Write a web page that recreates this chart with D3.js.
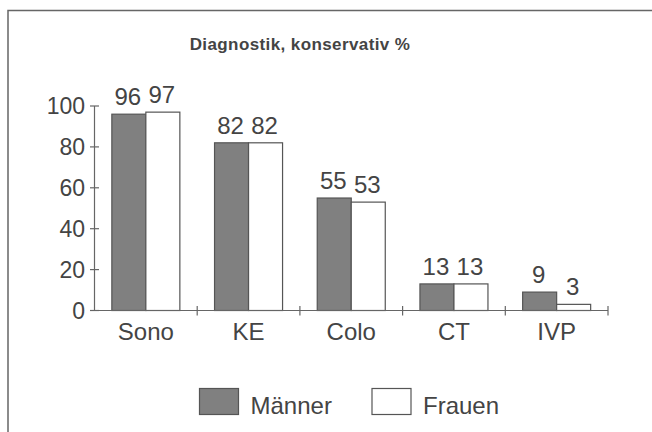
<!DOCTYPE html>
<html>
<head>
<meta charset="utf-8">
<script src="https://cdn.jsdelivr.net/npm/d3@7"></script>
<style>
  html, body { margin: 0; padding: 0; background: #fff; }
  svg text { font-family: "Liberation Sans", Arial, sans-serif; fill: #444; }
</style>
</head>
<body>
<div id="chart"></div>
<script>
// 数据
const categories = ['Sono', 'KE', 'Colo', 'CT', 'IVP'];
const seriesNames = ['Männer', 'Frauen'];
const maenner = [96, 82, 55, 13, 9];
const frauen = [97, 82, 53, 13, 3];
const yTicks = [0, 20, 40, 60, 80, 100];

const fills = ['#808080', '#ffffff'];
const W = 652, H = 432;

const svg = d3.select('#chart').append('svg').attr('width', W).attr('height', H);

// 外框
svg.append('rect')
  .attr('x', 8).attr('y', 10.5)
  .attr('width', W + 10).attr('height', H + 10)
  .attr('fill', 'none').attr('stroke', '#666').attr('stroke-width', 1.5);

// 标题
svg.append('text')
  .attr('x', 300).attr('y', 50)
  .attr('text-anchor', 'middle')
  .style('font-size', '17px').style('font-weight', 'bold')
  .style('letter-spacing', '0.4px')
  .text('Diagnostik, konservativ %');

const rows = categories.map((c, i) => ({ cat: c, values: [maenner[i], frauen[i]] }));

const x0 = d3.scaleBand().domain(categories).range([94.5, 608]).padding(0);
const x1 = d3.scaleBand().domain(d3.range(seriesNames.length)).range([0, x0.bandwidth()])
  .paddingInner(0).paddingOuter(0.51);
const y = d3.scaleLinear().domain([0, 100]).range([310.5, 106]);

const axisColor = '#666';

// 柱子
const grp = svg.selectAll('g.cat').data(rows).enter()
  .append('g').attr('class', 'cat')
  .attr('transform', d => 'translate(' + x0(d.cat) + ',0)');

grp.selectAll('rect').data(d => d.values).enter()
  .append('rect')
  .attr('x', (d, i) => x1(i))
  .attr('y', d => y(d))
  .attr('width', x1.bandwidth())
  .attr('height', d => y(0) - y(d))
  .attr('fill', (d, i) => fills[i])
  .attr('stroke', '#555').attr('stroke-width', 1.2);

// 数值标签
grp.selectAll('text.val').data(d => d.values).enter()
  .append('text').attr('class', 'val')
  .attr('x', (d, i) => x1(i) + x1.bandwidth() / 2 - 1)
  .attr('y', d => y(d) - 9)
  .attr('text-anchor', 'middle')
  .style('font-size', '24px')
  .text(d => d);

// y轴
const yAxis = svg.append('g');
yAxis.append('line')
  .attr('x1', 94.5).attr('x2', 94.5).attr('y1', y(100)).attr('y2', y(0))
  .attr('stroke', axisColor).attr('stroke-width', 1.2);
yAxis.selectAll('line.tick').data(yTicks).enter()
  .append('line').attr('class', 'tick')
  .attr('x1', 90).attr('x2', 99)
  .attr('y1', d => y(d)).attr('y2', d => y(d))
  .attr('stroke', axisColor).attr('stroke-width', 1.2);
yAxis.selectAll('text').data(yTicks).enter()
  .append('text')
  .attr('x', 85).attr('y', d => y(d) + 8)
  .attr('text-anchor', 'end')
  .style('font-size', '23px')
  .text(d => d);

// x轴
const xAxis = svg.append('g');
xAxis.append('line')
  .attr('x1', 94.5).attr('x2', 608).attr('y1', y(0)).attr('y2', y(0))
  .attr('stroke', axisColor).attr('stroke-width', 1.2);
const bounds = categories.map(c => x0(c)).concat([x0.range()[1]]);
xAxis.selectAll('line.tick').data(bounds.slice(1)).enter()
  .append('line').attr('class', 'tick')
  .attr('x1', d => d).attr('x2', d => d)
  .attr('y1', y(0) - 4.5).attr('y2', y(0) + 5)
  .attr('stroke', axisColor).attr('stroke-width', 1.2);
xAxis.selectAll('text').data(categories).enter()
  .append('text')
  .attr('x', d => x0(d) + x0.bandwidth() / 2)
  .attr('y', 339.5)
  .attr('text-anchor', 'middle')
  .style('font-size', '24px')
  .text(d => d);

// 图例
const legendX = [199.5, 372];
const leg = svg.selectAll('g.legend').data(seriesNames).enter()
  .append('g').attr('class', 'legend')
  .attr('transform', (d, i) => 'translate(' + legendX[i] + ',388.5)');
leg.append('rect')
  .attr('width', 39).attr('height', 26)
  .attr('fill', (d, i) => fills[i])
  .attr('stroke', '#555').attr('stroke-width', 1.2);
leg.append('text')
  .attr('x', 51).attr('y', 25)
  .style('font-size', '24px')
  .text(d => d);
</script>
</body>
</html>
